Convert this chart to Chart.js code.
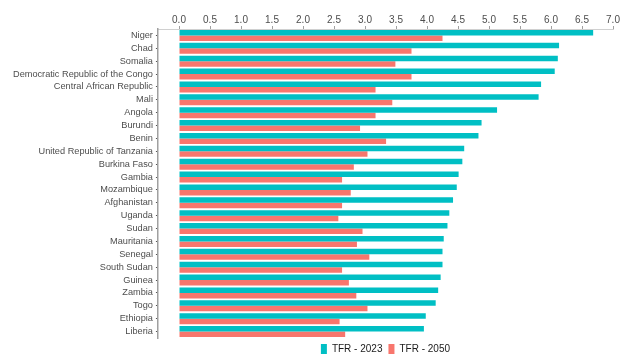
<!DOCTYPE html>
<html>
<head>
<meta charset="utf-8">
<script src="https://cdn.jsdelivr.net/npm/chart.js@4"></script>
<style>
  html, body { margin: 0; padding: 0; background: #ffffff; }
  #wrap { width: 627px; height: 364px; position: relative; }
</style>
</head>
<body>
<div id="wrap"><canvas id="tfr-chart"></canvas></div>
<script>
// Countries, top to bottom
const countries = [
  'Niger', 'Chad', 'Somalia', 'Democratic Republic of the Congo', 'Central African Republic',
  'Mali', 'Angola', 'Burundi', 'Benin', 'United Republic of Tanzania', 'Burkina Faso',
  'Gambia', 'Mozambique', 'Afghanistan', 'Uganda', 'Sudan', 'Mauritania', 'Senegal',
  'South Sudan', 'Guinea', 'Zambia', 'Togo', 'Ethiopia', 'Liberia'
];

// Total fertility rate, 2023
const tfr2023 = [
  6.68, 6.13, 6.11, 6.06, 5.84, 5.80, 5.13, 4.88, 4.83, 4.60, 4.57, 4.51,
  4.48, 4.42, 4.36, 4.33, 4.27, 4.25, 4.25, 4.22, 4.18, 4.14, 3.98, 3.95
];

// Total fertility rate, 2050 (projected)
const tfr2050 = [
  4.25, 3.75, 3.49, 3.75, 3.17, 3.44, 3.17, 2.92, 3.34, 3.04, 2.82, 2.63,
  2.77, 2.63, 2.57, 2.96, 2.87, 3.07, 2.63, 2.74, 2.86, 3.04, 2.59, 2.68
];

const xTicks = [0, 0.5, 1, 1.5, 2, 2.5, 3, 3.5, 4, 4.5, 5, 5.5, 6, 6.5, 7];

(function() {
  'use strict';

  const colors = {
    teal: '#00BFC4',
    salmon: '#F8766D',
    label: '#4d4d4d',
    axis: '#a0a0a0',
    legend: '#1a1a1a'
  };

  Chart.defaults.font.family = '"Liberation Sans", Arial, sans-serif';
  Chart.defaults.animation = false;

  const ctx = document.getElementById('tfr-chart').getContext('2d');

  new Chart(ctx, {
    type: 'bar',
    data: {
      labels: countries,
      datasets: [{
        label: 'TFR - 2023',
        data: tfr2023,
        backgroundColor: colors.teal,
        barPercentage: 1.0,
        categoryPercentage: 0.86
      }, {
        label: 'TFR - 2050',
        data: tfr2050,
        backgroundColor: colors.salmon,
        barPercentage: 1.0,
        categoryPercentage: 0.86
      }]
    },
    options: {
      indexAxis: 'y',
      responsive: true,
      maintainAspectRatio: false,
      layout: {
        padding: { top: 14, right: 14, left: 10, bottom: 0 }
      },
      plugins: {
        tooltip: { enabled: false },
        legend: {
          position: 'bottom',
          fullSize: false,
          labels: {
            color: colors.legend,
            boxWidth: 6,
            boxHeight: 10,
            padding: 6,
            font: { size: 10 }
          }
        }
      },
      scales: {
        x: {
          position: 'top',
          min: -0.34,
          max: 7,
          afterBuildTicks: (scale) => {
            scale.ticks = xTicks.map(v => ({ value: v }));
          },
          grid: {
            drawOnChartArea: false,
            drawTicks: true,
            tickLength: 3,
            color: colors.axis
          },
          border: { color: '#d0d0d0', width: 1 },
          ticks: {
            color: colors.label,
            padding: 0,
            font: { size: 10 },
            callback: (v) => Number(v).toFixed(1)
          }
        },
        y: {
          grid: {
            drawOnChartArea: false,
            offset: false,
            tickLength: 2,
            color: '#555555'
          },
          border: { color: colors.axis, width: 1.5 },
          ticks: {
            color: colors.label,
            padding: 3,
            autoSkip: false,
            font: { size: 9.2 }
          }
        }
      }
    }
  });
})();
</script>
</body>
</html>
